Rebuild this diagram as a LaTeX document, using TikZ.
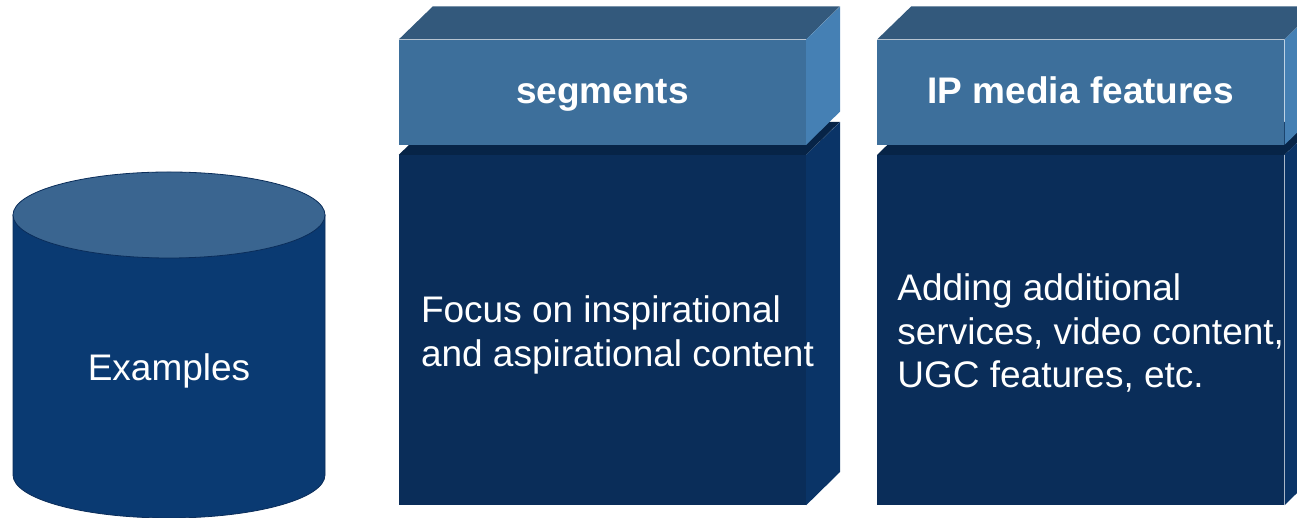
\documentclass[tikz,border=0pt]{standalone}
\usepackage{fontspec}
\setmainfont{Liberation Sans}
\usetikzlibrary{positioning,calc}

\definecolor{hdrfrontc}{HTML}{3D6F9B}
\definecolor{hdrtopc}{HTML}{33597C}
\definecolor{hdrsidec}{HTML}{4580B4}
\definecolor{bodyfrontc}{HTML}{0A2D59}
\definecolor{bodytopc}{HTML}{072447}
\definecolor{bodysidec}{HTML}{0A3467}
\definecolor{cylbodyc}{HTML}{0A3A72}
\definecolor{cyltopc}{HTML}{3A6590}
\definecolor{cyllinec}{HTML}{0A2D5A}

\begin{document}
\begin{tikzpicture}[x=1pt,y=1pt]
  \tikzstyle{bodybox}=[rectangle,fill=bodyfrontc,minimum width=407pt,minimum height=350pt,inner sep=0pt]
  \tikzstyle{hdrbox}=[rectangle,fill=hdrfrontc,minimum width=407pt,minimum height=105pt,inner sep=0pt,
    text height=29pt,text depth=6pt,text=white,font=\fontsize{37}{43}\selectfont\bfseries]
  \tikzstyle{bodytext}=[inner sep=0pt,align=left,text=white,font=\fontsize{37}{43.5}\selectfont]
  \useasboundingbox (0,0) rectangle (1297,518);

  % lower blocks
  \node[bodybox] (segbody) at (602.5,188) {};
  \node[bodybox,right=71pt of segbody] (ipbody) {};
  \foreach \b in {segbody,ipbody} {
    \fill[bodytopc] (\b.north west) -- ++(34,33) -- ++(407,0) -- (\b.north east) -- cycle;
    \fill[bodysidec] (\b.north east) -- ++(34,33) -- ++(0,-350) -- (\b.south east) -- cycle;
  }

  % header blocks
  \node[hdrbox,above=10pt of segbody] (seghdr) {segments};
  \node[hdrbox,above=10pt of ipbody] (iphdr) {IP media features};
  \foreach \h in {seghdr,iphdr} {
    \fill[hdrtopc] (\h.north west) -- ++(34,33) -- ++(407,0) -- (\h.north east) -- cycle;
    \fill[hdrsidec] (\h.north east) -- ++(34,33) -- ++(0,-105) -- (\h.south east) -- cycle;
  }

  \node[bodytext,right=22pt of segbody.west,yshift=-5pt] (segtext) {Focus on inspirational\\and aspirational content};
  \node[bodytext,right=20pt of ipbody.west,yshift=-3pt] (iptext) {Adding additional\\services, video content,\\UGC features, etc.};

  % cylinder
  \coordinate (cyltop) at (169,303);
  \coordinate (cylbot) at (169,43);
  \filldraw[fill=cylbodyc,draw=cyllinec,line width=0.8pt] ($(cyltop)+(-156,0)$) -- ($(cylbot)+(-156,0)$)
    arc[start angle=180,end angle=360,x radius=156pt,y radius=43pt] -- ($(cyltop)+(156,0)$) -- cycle;
  \filldraw[fill=cyltopc,draw=cyllinec,line width=0.8pt] (cyltop) ellipse[x radius=156pt,y radius=43pt];
  \node[bodytext] (examples) at (169,147) {Examples};
\end{tikzpicture}
\end{document}
